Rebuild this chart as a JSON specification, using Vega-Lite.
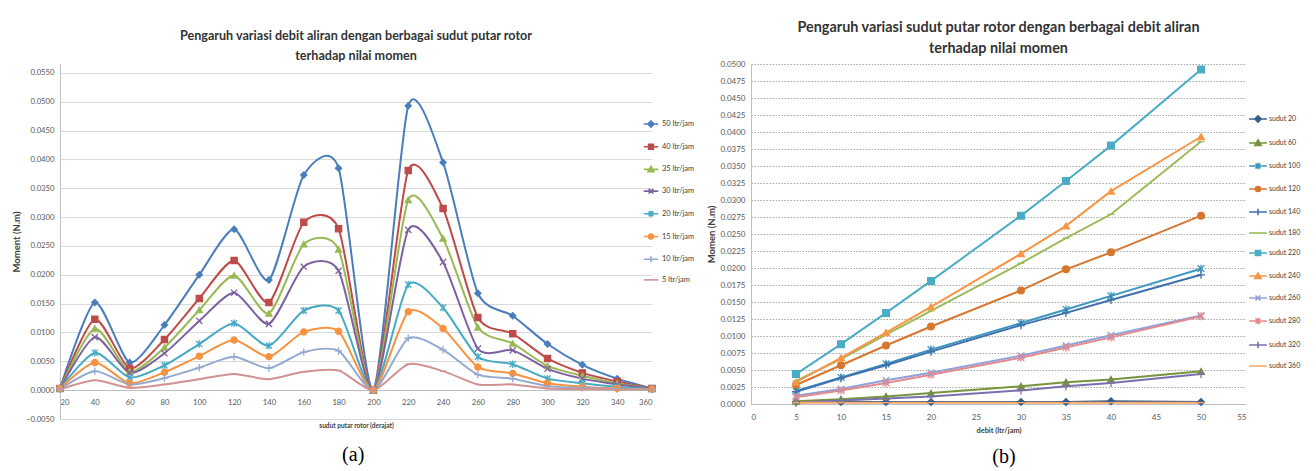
{
  "$schema": "https://vega.github.io/schema/vega-lite/v6.json",
  "background": "white",
  "padding": {"left": 11, "top": 19, "right": 0, "bottom": 0},
  "spacing": 11,
  "resolve": {"scale": {"color": "independent", "shape": "independent", "stroke": "independent", "x": "independent", "y": "independent"}, "legend": {"color": "independent"}},
  "config": {
    "font": "Lato",
    "view": {"stroke": null},
    "axis": {"labelColor": "#595959", "titleColor": "#404040", "domainColor": "#BFBFBF", "gridColor": "#D9D9D9", "ticks": false, "labelFont": "Lato", "titleFont": "Lato", "titleFontWeight": "bold"},
    "legend": {"labelFont": "Lato", "labelColor": "#404040", "padding": 0},
    "title": {"font": "Lato"}
  },
  "datasets": {
    "a": [
      {"debit":"50 ltr/jam","sudut":20,"momen":0.0003},{"debit":"50 ltr/jam","sudut":40,"momen":0.0152},{"debit":"50 ltr/jam","sudut":60,"momen":0.0048},{"debit":"50 ltr/jam","sudut":80,"momen":0.0113},{"debit":"50 ltr/jam","sudut":100,"momen":0.0200},{"debit":"50 ltr/jam","sudut":120,"momen":0.0279},{"debit":"50 ltr/jam","sudut":140,"momen":0.0191},{"debit":"50 ltr/jam","sudut":160,"momen":0.0373},{"debit":"50 ltr/jam","sudut":180,"momen":0.0385},{"debit":"50 ltr/jam","sudut":200,"momen":0.0},{"debit":"50 ltr/jam","sudut":220,"momen":0.0493},{"debit":"50 ltr/jam","sudut":240,"momen":0.0395},{"debit":"50 ltr/jam","sudut":260,"momen":0.0168},{"debit":"50 ltr/jam","sudut":280,"momen":0.0129},{"debit":"50 ltr/jam","sudut":300,"momen":0.0080},{"debit":"50 ltr/jam","sudut":320,"momen":0.0044},{"debit":"50 ltr/jam","sudut":340,"momen":0.0020},{"debit":"50 ltr/jam","sudut":360,"momen":0.0003},
      {"debit":"40 ltr/jam","sudut":20,"momen":0.0003},{"debit":"40 ltr/jam","sudut":40,"momen":0.0123},{"debit":"40 ltr/jam","sudut":60,"momen":0.0038},{"debit":"40 ltr/jam","sudut":80,"momen":0.0088},{"debit":"40 ltr/jam","sudut":100,"momen":0.0159},{"debit":"40 ltr/jam","sudut":120,"momen":0.0225},{"debit":"40 ltr/jam","sudut":140,"momen":0.0152},{"debit":"40 ltr/jam","sudut":160,"momen":0.0291},{"debit":"40 ltr/jam","sudut":180,"momen":0.0280},{"debit":"40 ltr/jam","sudut":200,"momen":0.0},{"debit":"40 ltr/jam","sudut":220,"momen":0.0381},{"debit":"40 ltr/jam","sudut":240,"momen":0.0315},{"debit":"40 ltr/jam","sudut":260,"momen":0.0126},{"debit":"40 ltr/jam","sudut":280,"momen":0.0098},{"debit":"40 ltr/jam","sudut":300,"momen":0.0055},{"debit":"40 ltr/jam","sudut":320,"momen":0.0030},{"debit":"40 ltr/jam","sudut":340,"momen":0.0015},{"debit":"40 ltr/jam","sudut":360,"momen":0.0003},
      {"debit":"35 ltr/jam","sudut":20,"momen":0.0003},{"debit":"35 ltr/jam","sudut":40,"momen":0.0107},{"debit":"35 ltr/jam","sudut":60,"momen":0.0033},{"debit":"35 ltr/jam","sudut":80,"momen":0.0074},{"debit":"35 ltr/jam","sudut":100,"momen":0.0139},{"debit":"35 ltr/jam","sudut":120,"momen":0.0199},{"debit":"35 ltr/jam","sudut":140,"momen":0.0133},{"debit":"35 ltr/jam","sudut":160,"momen":0.0253},{"debit":"35 ltr/jam","sudut":180,"momen":0.0244},{"debit":"35 ltr/jam","sudut":200,"momen":0.0},{"debit":"35 ltr/jam","sudut":220,"momen":0.0330},{"debit":"35 ltr/jam","sudut":240,"momen":0.0263},{"debit":"35 ltr/jam","sudut":260,"momen":0.0109},{"debit":"35 ltr/jam","sudut":280,"momen":0.0081},{"debit":"35 ltr/jam","sudut":300,"momen":0.0042},{"debit":"35 ltr/jam","sudut":320,"momen":0.0025},{"debit":"35 ltr/jam","sudut":340,"momen":0.0012},{"debit":"35 ltr/jam","sudut":360,"momen":0.0003},
      {"debit":"30 ltr/jam","sudut":20,"momen":0.0003},{"debit":"30 ltr/jam","sudut":40,"momen":0.0092},{"debit":"30 ltr/jam","sudut":60,"momen":0.0030},{"debit":"30 ltr/jam","sudut":80,"momen":0.0064},{"debit":"30 ltr/jam","sudut":100,"momen":0.0120},{"debit":"30 ltr/jam","sudut":120,"momen":0.0169},{"debit":"30 ltr/jam","sudut":140,"momen":0.0115},{"debit":"30 ltr/jam","sudut":160,"momen":0.0214},{"debit":"30 ltr/jam","sudut":180,"momen":0.0207},{"debit":"30 ltr/jam","sudut":200,"momen":0.0},{"debit":"30 ltr/jam","sudut":220,"momen":0.0278},{"debit":"30 ltr/jam","sudut":240,"momen":0.0222},{"debit":"30 ltr/jam","sudut":260,"momen":0.0072},{"debit":"30 ltr/jam","sudut":280,"momen":0.0069},{"debit":"30 ltr/jam","sudut":300,"momen":0.0037},{"debit":"30 ltr/jam","sudut":320,"momen":0.0020},{"debit":"30 ltr/jam","sudut":340,"momen":0.0010},{"debit":"30 ltr/jam","sudut":360,"momen":0.0003},
      {"debit":"20 ltr/jam","sudut":20,"momen":0.0003},{"debit":"20 ltr/jam","sudut":40,"momen":0.0065},{"debit":"20 ltr/jam","sudut":60,"momen":0.0022},{"debit":"20 ltr/jam","sudut":80,"momen":0.0043},{"debit":"20 ltr/jam","sudut":100,"momen":0.0080},{"debit":"20 ltr/jam","sudut":120,"momen":0.0116},{"debit":"20 ltr/jam","sudut":140,"momen":0.0077},{"debit":"20 ltr/jam","sudut":160,"momen":0.0138},{"debit":"20 ltr/jam","sudut":180,"momen":0.0138},{"debit":"20 ltr/jam","sudut":200,"momen":0.0},{"debit":"20 ltr/jam","sudut":220,"momen":0.0183},{"debit":"20 ltr/jam","sudut":240,"momen":0.0143},{"debit":"20 ltr/jam","sudut":260,"momen":0.0058},{"debit":"20 ltr/jam","sudut":280,"momen":0.0045},{"debit":"20 ltr/jam","sudut":300,"momen":0.0020},{"debit":"20 ltr/jam","sudut":320,"momen":0.0012},{"debit":"20 ltr/jam","sudut":340,"momen":0.0006},{"debit":"20 ltr/jam","sudut":360,"momen":0.0002},
      {"debit":"15 ltr/jam","sudut":20,"momen":0.0003},{"debit":"15 ltr/jam","sudut":40,"momen":0.0048},{"debit":"15 ltr/jam","sudut":60,"momen":0.0012},{"debit":"15 ltr/jam","sudut":80,"momen":0.0031},{"debit":"15 ltr/jam","sudut":100,"momen":0.0059},{"debit":"15 ltr/jam","sudut":120,"momen":0.0087},{"debit":"15 ltr/jam","sudut":140,"momen":0.0058},{"debit":"15 ltr/jam","sudut":160,"momen":0.0101},{"debit":"15 ltr/jam","sudut":180,"momen":0.0102},{"debit":"15 ltr/jam","sudut":200,"momen":0.0},{"debit":"15 ltr/jam","sudut":220,"momen":0.0136},{"debit":"15 ltr/jam","sudut":240,"momen":0.0107},{"debit":"15 ltr/jam","sudut":260,"momen":0.0040},{"debit":"15 ltr/jam","sudut":280,"momen":0.0029},{"debit":"15 ltr/jam","sudut":300,"momen":0.0012},{"debit":"15 ltr/jam","sudut":320,"momen":0.0006},{"debit":"15 ltr/jam","sudut":340,"momen":0.0003},{"debit":"15 ltr/jam","sudut":360,"momen":0.0002},
      {"debit":"10 ltr/jam","sudut":20,"momen":0.0002},{"debit":"10 ltr/jam","sudut":40,"momen":0.0033},{"debit":"10 ltr/jam","sudut":60,"momen":0.0010},{"debit":"10 ltr/jam","sudut":80,"momen":0.0021},{"debit":"10 ltr/jam","sudut":100,"momen":0.0039},{"debit":"10 ltr/jam","sudut":120,"momen":0.0058},{"debit":"10 ltr/jam","sudut":140,"momen":0.0038},{"debit":"10 ltr/jam","sudut":160,"momen":0.0066},{"debit":"10 ltr/jam","sudut":180,"momen":0.0068},{"debit":"10 ltr/jam","sudut":200,"momen":0.0},{"debit":"10 ltr/jam","sudut":220,"momen":0.0090},{"debit":"10 ltr/jam","sudut":240,"momen":0.0070},{"debit":"10 ltr/jam","sudut":260,"momen":0.0027},{"debit":"10 ltr/jam","sudut":280,"momen":0.0020},{"debit":"10 ltr/jam","sudut":300,"momen":0.0007},{"debit":"10 ltr/jam","sudut":320,"momen":0.0004},{"debit":"10 ltr/jam","sudut":340,"momen":0.0002},{"debit":"10 ltr/jam","sudut":360,"momen":0.0001},
      {"debit":"5 ltr/jam","sudut":20,"momen":0.0001},{"debit":"5 ltr/jam","sudut":40,"momen":0.0017},{"debit":"5 ltr/jam","sudut":60,"momen":0.0004},{"debit":"5 ltr/jam","sudut":80,"momen":0.0010},{"debit":"5 ltr/jam","sudut":100,"momen":0.0019},{"debit":"5 ltr/jam","sudut":120,"momen":0.0028},{"debit":"5 ltr/jam","sudut":140,"momen":0.0019},{"debit":"5 ltr/jam","sudut":160,"momen":0.0032},{"debit":"5 ltr/jam","sudut":180,"momen":0.0034},{"debit":"5 ltr/jam","sudut":200,"momen":0.0},{"debit":"5 ltr/jam","sudut":220,"momen":0.0045},{"debit":"5 ltr/jam","sudut":240,"momen":0.0033},{"debit":"5 ltr/jam","sudut":260,"momen":0.0010},{"debit":"5 ltr/jam","sudut":280,"momen":0.0010},{"debit":"5 ltr/jam","sudut":300,"momen":0.0003},{"debit":"5 ltr/jam","sudut":320,"momen":0.0002},{"debit":"5 ltr/jam","sudut":340,"momen":0.0001},{"debit":"5 ltr/jam","sudut":360,"momen":0.0001}
    ],
    "b": [
      {"sudut":"sudut 20","debit":5,"momen":0.0003},{"sudut":"sudut 20","debit":10,"momen":0.0003},{"sudut":"sudut 20","debit":15,"momen":0.0003},{"sudut":"sudut 20","debit":20,"momen":0.0003},{"sudut":"sudut 20","debit":30,"momen":0.0003},{"sudut":"sudut 20","debit":35,"momen":0.0003},{"sudut":"sudut 20","debit":40,"momen":0.0004},{"sudut":"sudut 20","debit":50,"momen":0.0003},
      {"sudut":"sudut 60","debit":5,"momen":0.0004},{"sudut":"sudut 60","debit":10,"momen":0.0007},{"sudut":"sudut 60","debit":15,"momen":0.0011},{"sudut":"sudut 60","debit":20,"momen":0.0016},{"sudut":"sudut 60","debit":30,"momen":0.0026},{"sudut":"sudut 60","debit":35,"momen":0.0032},{"sudut":"sudut 60","debit":40,"momen":0.0036},{"sudut":"sudut 60","debit":50,"momen":0.0048},
      {"sudut":"sudut 100","debit":5,"momen":0.0019},{"sudut":"sudut 100","debit":10,"momen":0.0039},{"sudut":"sudut 100","debit":15,"momen":0.0059},{"sudut":"sudut 100","debit":20,"momen":0.0080},{"sudut":"sudut 100","debit":30,"momen":0.0119},{"sudut":"sudut 100","debit":35,"momen":0.0139},{"sudut":"sudut 100","debit":40,"momen":0.0159},{"sudut":"sudut 100","debit":50,"momen":0.0199},
      {"sudut":"sudut 120","debit":5,"momen":0.0028},{"sudut":"sudut 120","debit":10,"momen":0.0057},{"sudut":"sudut 120","debit":15,"momen":0.0086},{"sudut":"sudut 120","debit":20,"momen":0.0114},{"sudut":"sudut 120","debit":30,"momen":0.0167},{"sudut":"sudut 120","debit":35,"momen":0.0198},{"sudut":"sudut 120","debit":40,"momen":0.0223},{"sudut":"sudut 120","debit":50,"momen":0.0277},
      {"sudut":"sudut 140","debit":5,"momen":0.0018},{"sudut":"sudut 140","debit":10,"momen":0.0038},{"sudut":"sudut 140","debit":15,"momen":0.0057},{"sudut":"sudut 140","debit":20,"momen":0.0077},{"sudut":"sudut 140","debit":30,"momen":0.0116},{"sudut":"sudut 140","debit":35,"momen":0.0134},{"sudut":"sudut 140","debit":40,"momen":0.0153},{"sudut":"sudut 140","debit":50,"momen":0.0190},
      {"sudut":"sudut 180","debit":5,"momen":0.0034},{"sudut":"sudut 180","debit":10,"momen":0.0066},{"sudut":"sudut 180","debit":15,"momen":0.0102},{"sudut":"sudut 180","debit":20,"momen":0.0137},{"sudut":"sudut 180","debit":30,"momen":0.0207},{"sudut":"sudut 180","debit":35,"momen":0.0244},{"sudut":"sudut 180","debit":40,"momen":0.0279},{"sudut":"sudut 180","debit":50,"momen":0.0386},
      {"sudut":"sudut 220","debit":5,"momen":0.0044},{"sudut":"sudut 220","debit":10,"momen":0.0088},{"sudut":"sudut 220","debit":15,"momen":0.0134},{"sudut":"sudut 220","debit":20,"momen":0.0181},{"sudut":"sudut 220","debit":30,"momen":0.0277},{"sudut":"sudut 220","debit":35,"momen":0.0328},{"sudut":"sudut 220","debit":40,"momen":0.0380},{"sudut":"sudut 220","debit":50,"momen":0.0492},
      {"sudut":"sudut 240","debit":5,"momen":0.0032},{"sudut":"sudut 240","debit":10,"momen":0.0068},{"sudut":"sudut 240","debit":15,"momen":0.0105},{"sudut":"sudut 240","debit":20,"momen":0.0143},{"sudut":"sudut 240","debit":30,"momen":0.0221},{"sudut":"sudut 240","debit":35,"momen":0.0262},{"sudut":"sudut 240","debit":40,"momen":0.0313},{"sudut":"sudut 240","debit":50,"momen":0.0393},
      {"sudut":"sudut 260","debit":5,"momen":0.0012},{"sudut":"sudut 260","debit":10,"momen":0.0022},{"sudut":"sudut 260","debit":15,"momen":0.0035},{"sudut":"sudut 260","debit":20,"momen":0.0046},{"sudut":"sudut 260","debit":30,"momen":0.0071},{"sudut":"sudut 260","debit":35,"momen":0.0086},{"sudut":"sudut 260","debit":40,"momen":0.0101},{"sudut":"sudut 260","debit":50,"momen":0.0130},
      {"sudut":"sudut 280","debit":5,"momen":0.0010},{"sudut":"sudut 280","debit":10,"momen":0.0020},{"sudut":"sudut 280","debit":15,"momen":0.0031},{"sudut":"sudut 280","debit":20,"momen":0.0043},{"sudut":"sudut 280","debit":30,"momen":0.0068},{"sudut":"sudut 280","debit":35,"momen":0.0083},{"sudut":"sudut 280","debit":40,"momen":0.0098},{"sudut":"sudut 280","debit":50,"momen":0.0129},
      {"sudut":"sudut 320","debit":5,"momen":0.0002},{"sudut":"sudut 320","debit":10,"momen":0.0005},{"sudut":"sudut 320","debit":15,"momen":0.0008},{"sudut":"sudut 320","debit":20,"momen":0.0011},{"sudut":"sudut 320","debit":30,"momen":0.0020},{"sudut":"sudut 320","debit":35,"momen":0.0026},{"sudut":"sudut 320","debit":40,"momen":0.0031},{"sudut":"sudut 320","debit":50,"momen":0.0044},
      {"sudut":"sudut 360","debit":5,"momen":0.0002},{"sudut":"sudut 360","debit":10,"momen":0.0002},{"sudut":"sudut 360","debit":15,"momen":0.0002},{"sudut":"sudut 360","debit":20,"momen":0.0002},{"sudut":"sudut 360","debit":30,"momen":0.0002},{"sudut":"sudut 360","debit":35,"momen":0.0002},{"sudut":"sudut 360","debit":40,"momen":0.0002},{"sudut":"sudut 360","debit":50,"momen":0.0002}
    ]
  },
  "hconcat": [
    {
      "title": {"text": "(a)", "orient": "bottom", "font": "Liberation Serif", "fontSize": 20, "fontWeight": "normal", "color": "#000000", "anchor": "middle", "offset": 16},
      "vconcat": [
        {
          "width": 592,
          "height": 355,
          "title": {"text": ["Pengaruh variasi debit aliran dengan berbagai sudut putar rotor", "terhadap nilai momen"], "fontSize": 12.6, "fontWeight": "bold", "color": "#333333", "lineHeight": 20, "offset": 1, "anchor": "middle"},
          "data": {"name": "a"},
          "encoding": {
            "x": {"field": "sudut", "type": "quantitative", "scale": {"domain": [20, 360], "nice": false, "zero": false},
              "axis": {"values": [20,40,60,80,100,120,140,160,180,200,220,240,260,280,300,320,340,360], "grid": false, "offset": -29, "title": "sudut putar rotor (derajat)", "titleFontSize": 6.5, "titlePadding": 17, "labelFontSize": 7.7, "labelPadding": 8}},
            "y": {"field": "momen", "type": "quantitative", "scale": {"domain": [-0.005, 0.05656], "nice": false, "zero": false},
              "axis": {"values": [-0.005,0,0.005,0.01,0.015,0.02,0.025,0.03,0.035,0.04,0.045,0.05,0.055], "format": ".4f", "grid": true, "title": "Moment (N.m)", "titleFontSize": 9.5, "titlePadding": 4, "labelFontSize": 7.7, "labelPadding": 6}},
            "color": {"field": "debit", "type": "nominal",
              "scale": {"domain": ["50 ltr/jam","40 ltr/jam","35 ltr/jam","30 ltr/jam","20 ltr/jam","15 ltr/jam","10 ltr/jam","5 ltr/jam"], "range": ["#4A7EBB","#BE4B48","#98B954","#7D60A0","#46AAC5","#F69240","#93A9CF","#D19392"]},
              "legend": {"title": null, "orient": "none", "legendX": 587, "legendY": 56, "labelFontSize": 7.4, "symbolSize": 36, "symbolOpacity": 1, "symbolStrokeWidth": 1.6, "rowPadding": 9.7, "labelOffset": 7}
            },
            "stroke": {"field": "debit", "type": "nominal", "scale": {"domain": ["50 ltr/jam","40 ltr/jam","35 ltr/jam","30 ltr/jam","20 ltr/jam","15 ltr/jam","10 ltr/jam","5 ltr/jam"], "range": ["#4A7EBB","#BE4B48","#98B954","#7D60A0","#46AAC5","#F69240","#93A9CF","#D19392"]}}
          },
          "layer": [
            {"mark": {"type": "line", "interpolate": "cardinal", "tension": 0.3, "strokeWidth": 2}},
            {"mark": {"type": "point", "filled": true, "size": 38, "strokeWidth": 1.3, "opacity": 1,
              "shape": {"expr": "['diamond','square','triangle-up','M-1,-1L1,1M-1,1L1,-1','M-1,-1L1,1M-1,1L1,-1M0,-1.2L0,1.2','circle','M-1.2,0L1.2,0M0,-1.2L0,1.2','M-1,0L1,0'][indexof(['50 ltr/jam','40 ltr/jam','35 ltr/jam','30 ltr/jam','20 ltr/jam','15 ltr/jam','10 ltr/jam','5 ltr/jam'], datum.debit)]"}}},
            {"mark": {"type": "point", "filled": true, "size": 36, "opacity": 0},
              "encoding": {
                "shape": {"field": "debit", "type": "nominal", "scale": {"domain": ["50 ltr/jam","40 ltr/jam","35 ltr/jam","30 ltr/jam","20 ltr/jam","15 ltr/jam","10 ltr/jam","5 ltr/jam"], "range": ["M-2.4,0L2.4,0M0,-1L1,0L0,1L-1,0Z","M-2.4,0L2.4,0M-0.8,-0.8L0.8,-0.8L0.8,0.8L-0.8,0.8Z","M-2.4,0L2.4,0M0,-1L1,0.8L-1,0.8Z","M-2.4,0L2.4,0M-0.8,-0.8L0.8,0.8M-0.8,0.8L0.8,-0.8","M-2.4,0L2.4,0M-0.8,-0.8L0.8,0.8M-0.8,0.8L0.8,-0.8M0,-1L0,1","M-2.4,0L2.4,0M-0.8,0A0.8,0.8,0,1,1,0.8,0A0.8,0.8,0,1,1,-0.8,0Z","M-2.4,0L2.4,0M0,-1L0,1","M-2.4,0L2.4,0"]}}
              }}
          ]
        }
      ]
    },
    {
      "title": {"text": "(b)", "orient": "bottom", "font": "Liberation Serif", "fontSize": 20, "fontWeight": "normal", "color": "#000000", "anchor": "middle", "offset": 14},
      "vconcat": [
        {
          "width": 495,
          "height": 340,
          "title": {"text": ["Pengaruh variasi sudut putar rotor dengan berbagai debit aliran", "terhadap nilai momen"], "fontSize": 14.4, "fontWeight": "bold", "color": "#333333", "lineHeight": 21, "offset": 4, "anchor": "middle"},
          "data": {"name": "b"},
          "encoding": {
            "x": {"field": "debit", "type": "quantitative", "scale": {"domain": [0, 55], "nice": false},
              "axis": {"values": [0,5,10,15,20,25,30,35,40,45,50,55], "grid": false, "title": "debit (ltr/jam)", "titleFontSize": 7.4, "titlePadding": 5, "labelFontSize": 8, "labelPadding": 9}},
            "y": {"field": "momen", "type": "quantitative", "scale": {"domain": [0, 0.05], "nice": false},
              "axis": {"values": [0,0.0025,0.005,0.0075,0.01,0.0125,0.015,0.0175,0.02,0.0225,0.025,0.0275,0.03,0.0325,0.035,0.0375,0.04,0.0425,0.045,0.0475,0.05], "format": ".4f", "grid": true, "gridDash": [1.5, 1.5], "gridColor": "#A6A6A6", "title": "Momen (N.m)", "titleFontSize": 9.5, "titlePadding": 3, "labelFontSize": 8, "labelPadding": 6}},
            "color": {"field": "sudut", "type": "nominal",
              "scale": {"domain": ["sudut 20","sudut 60","sudut 100","sudut 120","sudut 140","sudut 180","sudut 220","sudut 240","sudut 260","sudut 280","sudut 320","sudut 360"], "range": ["#385D8A","#77933C","#3C97BF","#D6762F","#3F6FAD","#9BBB59","#4BACC6","#F79646","#8EA2D9","#E6898C","#7A6FAE","#F8A96C"]},
              "legend": {"title": null, "orient": "none", "legendX": 503, "legendY": 51, "labelFontSize": 7, "symbolSize": 40, "symbolOpacity": 1, "symbolStrokeWidth": 1.6, "rowPadding": 10, "labelOffset": 7}
            },
            "stroke": {"field": "sudut", "type": "nominal", "scale": {"domain": ["sudut 20","sudut 60","sudut 100","sudut 120","sudut 140","sudut 180","sudut 220","sudut 240","sudut 260","sudut 280","sudut 320","sudut 360"], "range": ["#385D8A","#77933C","#3C97BF","#D6762F","#3F6FAD","#9BBB59","#4BACC6","#F79646","#8EA2D9","#E6898C","#7A6FAE","#F8A96C"]}}
          },
          "layer": [
            {"mark": {"type": "line", "strokeWidth": 2}},
            {"mark": {"type": "point", "filled": true, "size": 45, "strokeWidth": 1.3, "opacity": 1,
              "shape": {"expr": "['diamond','triangle-up','M-1,-1L1,1M-1,1L1,-1M0,-1.2L0,1.2','circle','M-1.2,0L1.2,0M0,-1.2L0,1.2','M-1,0L1,0','square','triangle-up','M-1,-1L1,1M-1,1L1,-1','M-1,-1L1,1M-1,1L1,-1M0,-1.2L0,1.2','M-1.2,0L1.2,0M0,-1.2L0,1.2','M-1,0L1,0'][indexof(['sudut 20','sudut 60','sudut 100','sudut 120','sudut 140','sudut 180','sudut 220','sudut 240','sudut 260','sudut 280','sudut 320','sudut 360'], datum.sudut)]"}}},
            {"mark": {"type": "point", "filled": true, "size": 45, "opacity": 0},
              "encoding": {
                "shape": {"field": "sudut", "type": "nominal", "scale": {"domain": ["sudut 20","sudut 60","sudut 100","sudut 120","sudut 140","sudut 180","sudut 220","sudut 240","sudut 260","sudut 280","sudut 320","sudut 360"], "range": ["M-2.8,0L2.8,0M0,-1L1,0L0,1L-1,0Z","M-2.8,0L2.8,0M0,-1L1,0.8L-1,0.8Z","M-2.8,0L2.8,0M-0.8,-0.8L0.8,0.8M-0.8,0.8L0.8,-0.8M0,-1L0,1","M-2.8,0L2.8,0M-0.8,0A0.8,0.8,0,1,1,0.8,0A0.8,0.8,0,1,1,-0.8,0Z","M-2.8,0L2.8,0M0,-1L0,1","M-2.8,0L2.8,0","M-2.8,0L2.8,0M-0.8,-0.8L0.8,-0.8L0.8,0.8L-0.8,0.8Z","M-2.8,0L2.8,0M0,-1L1,0.8L-1,0.8Z","M-2.8,0L2.8,0M-0.8,-0.8L0.8,0.8M-0.8,0.8L0.8,-0.8","M-2.8,0L2.8,0M-0.8,-0.8L0.8,0.8M-0.8,0.8L0.8,-0.8M0,-1L0,1","M-2.8,0L2.8,0M0,-1L0,1","M-2.8,0L2.8,0"]}}
              }}
          ]
        }
      ]
    }
  ]
}
